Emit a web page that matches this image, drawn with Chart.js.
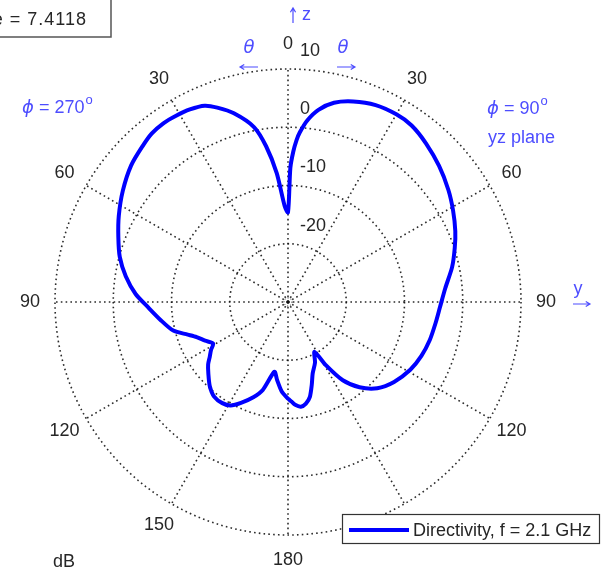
<!DOCTYPE html>
<html>
<head>
<meta charset="UTF-8">
<title>Directivity - yz plane</title>
<script src="https://cdn.jsdelivr.net/npm/chart.js@4.4.0/dist/chart.umd.min.js"></script>
<style>
body { margin: 0; background: #fff; }
</style>
</head>
<body>
<canvas id="grafica" width="613" height="576"></canvas>
<script>
// lado phi = 90 (derecha): theta en grados, directividad en dB
var thetaDer = [0, 1, 2, 3, 4, 6, 9, 13, 18, 24, 30, 35, 41, 48, 55, 61, 67, 72, 78, 85,
                92, 98, 105, 112, 119, 127, 134, 140, 145, 149, 152, 156, 161, 164, 167, 170, 173, 176, 178, 180];
var dbDer = [-14.6, -7.0, -4.2, -2.2, -0.8, 1.3, 3.4, 5.1, 6.2, 7.0, 7.2, 7.0, 6.1, 4.9, 3.6, 2.4, 1.2, 0.1, -1.2, -2.9,
             -3.9, -4.4, -4.8, -5.3, -6.0, -7.2, -8.7, -10.9, -13.6, -17.3, -20.3, -18.6, -17.0, -15.2, -13.3, -12.3, -11.9, -12.3, -12.9, -13.4];
// lado phi = 270 (izquierda)
var thetaIzq = [2, 5, 8, 11, 16, 20, 23, 27, 31, 35, 39, 43, 49, 56, 63, 69, 75, 81, 87, 92,
                98, 104, 108, 111, 115, 119, 122, 125, 128, 132, 137, 142, 147, 151, 155, 160, 164, 169, 172, 176];
var dbIzq = [-13.5, -7.8, -3.0, 0.6, 3.7, 5.5, 6.6, 7.1, 7.3, 7.4, 7.2, 6.6, 5.7, 4.2, 2.6, 1.2, -0.1, -1.8, -3.8, -5.9,
             -7.9, -9.7, -11.9, -13.2, -14.3, -15.3, -14.4, -13.6, -12.6, -11.6, -10.3, -9.4, -9.3, -9.7, -10.9, -12.6, -14.3, -17.8, -16.5, -14.6];
var anillos = [10, 0, -10, -20];
var angulosEtiq = [0, 30, 60, 90, 120, 150, 180];

var etiquetas = [];
var valores = [];
for (var a = 0; a < 360; a++) {
    etiquetas.push(a);
    valores.push(null);
}
for (var k = 0; k < thetaDer.length; k++) valores[thetaDer[k]] = dbDer[k];
for (var k = 0; k < thetaIzq.length; k++) valores[360 - thetaIzq[k]] = dbIzq[k];

var fuente = '18px "Liberation Sans", Arial, sans-serif';
var gris = '#262626';
var azul = '#4d4dff';
var puntos = [1.6, 3.2];
var colorRejilla = 'rgba(20,20,20,0.9)';

var textos = {
    id: 'textos',
    afterDraw: function (chart) {
        var c = chart.ctx;
        var r = chart.scales.r;
        var xc = r.xCenter, yc = r.yCenter, R = r.drawingArea;
        c.save();

        // circulito del centro
        c.strokeStyle = gris;
        c.lineWidth = 1;
        c.setLineDash([1, 2]);
        c.beginPath();
        c.arc(xc, yc, 4, 0, 2 * Math.PI);
        c.stroke();
        c.setLineDash([]);

        // etiquetas de angulo
        c.font = fuente;
        c.fillStyle = gris;
        c.textAlign = 'center';
        c.textBaseline = 'middle';
        angulosEtiq.forEach(function (ang) {
            var lados = (ang === 0 || ang === 180) ? [ang] : [ang, 360 - ang];
            lados.forEach(function (i) {
                var p = r.getPointPosition(i, R + 25);
                c.fillText(String(ang), p.x, p.y);
            });
        });

        // etiquetas radiales
        c.textAlign = 'left';
        anillos.forEach(function (v) {
            var d = r.getDistanceFromCenterForValue(v);
            c.fillText(String(v), xc + 12, yc - d - 18);
        });

        c.fillText('dB', 53, 562);

        // textos azules
        function flecha(x1, y1, x2, y2) {
            var ang = Math.atan2(y2 - y1, x2 - x1);
            c.beginPath();
            c.moveTo(x1, y1);
            c.lineTo(x2, y2);
            c.moveTo(x2 - 5 * Math.cos(ang - 0.55), y2 - 5 * Math.sin(ang - 0.55));
            c.lineTo(x2, y2);
            c.lineTo(x2 - 5 * Math.cos(ang + 0.55), y2 - 5 * Math.sin(ang + 0.55));
            c.stroke();
        }
        c.fillStyle = azul;
        c.strokeStyle = azul;
        c.lineWidth = 1.2;
        flecha(293, 23, 293, 8);
        c.fillText('z', 302, 15);
        flecha(258, 67, 240, 67);
        flecha(337, 67, 355, 67);
        flecha(573, 304, 590, 304);
        c.font = 'italic 18px "DejaVu Sans", sans-serif';
        c.textAlign = 'center';
        c.fillText('\u03b8', 249, 48);
        c.fillText('\u03b8', 343, 48);
        c.font = fuente;
        c.fillText('y', 578, 289);

        function textoFi(x, y, numero) {
            c.textAlign = 'left';
            c.textBaseline = 'alphabetic';
            c.font = 'italic 18px "DejaVu Sans", sans-serif';
            c.fillText('\u03d5', x, y);
            var w = c.measureText('\u03d5').width;
            c.font = fuente;
            var s = ' = ' + numero;
            c.fillText(s, x + w, y);
            var w2 = c.measureText(s).width;
            c.font = '13px "Liberation Sans", Arial, sans-serif';
            c.fillText('o', x + w + w2 + 1, y - 9);
        }
        textoFi(22, 113, '270');
        textoFi(487, 114, '90');
        c.font = fuente;
        c.fillText('yz plane', 488, 143);

        // cuadro del valor maximo
        c.fillStyle = '#fff';
        c.fillRect(-5, -5, 116, 42);
        c.strokeStyle = '#555';
        c.lineWidth = 1.5;
        c.strokeRect(-5, -5, 116, 42);
        c.fillStyle = gris;
        c.textAlign = 'right';
        c.letterSpacing = '1px';
        c.fillText('Max Value = 7.4118', 87, 25);
        c.letterSpacing = '0px';

        // leyenda
        var ds = chart.data.datasets[0];
        c.fillStyle = '#fff';
        c.fillRect(342.5, 514.5, 257, 29);
        c.strokeStyle = '#333';
        c.lineWidth = 1.2;
        c.strokeRect(342.5, 514.5, 257, 29);
        c.strokeStyle = ds.borderColor;
        c.lineWidth = 4;
        c.beginPath();
        c.moveTo(349, 530);
        c.lineTo(409, 530);
        c.stroke();
        c.fillStyle = gris;
        c.textAlign = 'left';
        c.fillText(ds.label, 413, 536);

        c.restore();
    }
};

var miCanvas = document.getElementById('grafica').getContext('2d');
var chart = new Chart(miCanvas, {
    type: 'radar',
    data: {
        labels: etiquetas,
        datasets: [{
            label: 'Directivity, f = 2.1 GHz',
            data: valores,
            borderColor: '#0000ff',
            borderWidth: 4,
            pointRadius: 0,
            pointHoverRadius: 0,
            fill: false,
            tension: 0.25,
            spanGaps: true,
            borderJoinStyle: 'round'
        }]
    },
    options: {
        responsive: false,
        animation: false,
        devicePixelRatio: 1,
        layout: { padding: { left: 55, top: 69, right: 92, bottom: 41 } },
        plugins: { legend: { display: false }, tooltip: { enabled: false } },
        scales: {
            r: {
                min: -30,
                max: 10,
                startAngle: 0,
                ticks: { display: false, stepSize: 10 },
                pointLabels: { display: false },
                grid: { circular: true, color: colorRejilla, lineWidth: 1.6, borderDash: puntos },
                border: { dash: puntos },
                angleLines: {
                    color: colorRejilla,
                    lineWidth: function (ctx) { return ctx.index % 30 === 0 ? 1.6 : 0; },
                    borderDash: puntos
                }
            }
        }
    },
    plugins: [textos]
});
</script>
</body>
</html>
